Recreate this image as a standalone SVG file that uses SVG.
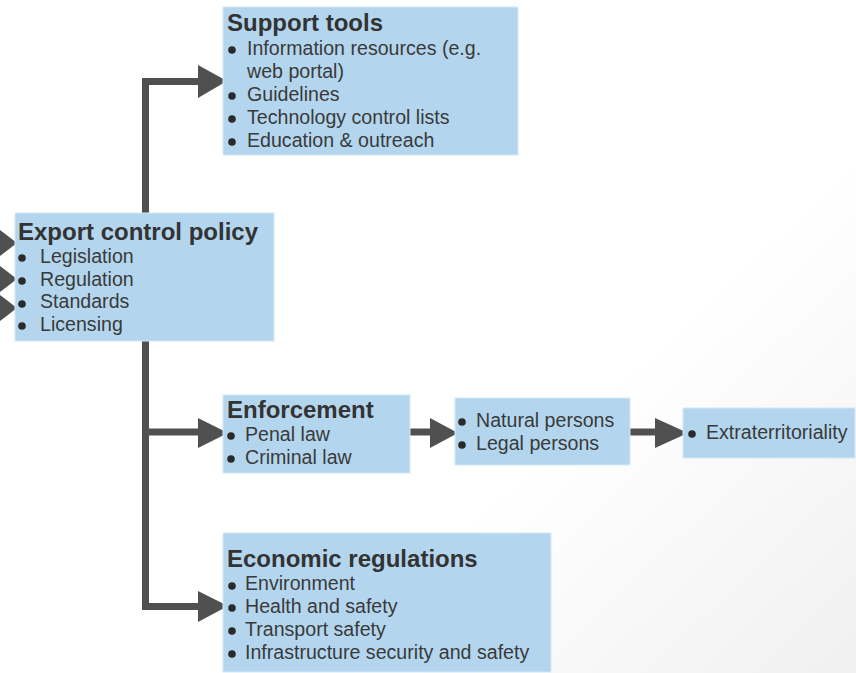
<svg xmlns="http://www.w3.org/2000/svg" width="856" height="673" viewBox="0 0 856 673">
  <defs>
    <linearGradient id="bgShade" gradientUnits="userSpaceOnUse" x1="600" y1="400" x2="856" y2="673">
      <stop offset="0" stop-color="#ffffff"/>
      <stop offset="1" stop-color="#f0f0f0"/>
    </linearGradient>
    <style>
      .box { fill: #b3d6ee; stroke: #d4e8f6; stroke-width: 1; }
      .title { font-family: "Liberation Sans", Arial, sans-serif; font-weight: bold; font-size: 24px; fill: #333333; }
      .item { font-family: "Liberation Sans", Arial, sans-serif; font-size: 19.6px; fill: #3a3a3a; }
      .dot { fill: #2a2a2a; }
      .wire { fill: none; stroke: #505050; stroke-width: 7; stroke-linejoin: miter; }
      .head { fill: #505050; }
    </style>
  </defs>

  <rect width="856" height="673" fill="url(#bgShade)"/>

  <!-- connectors -->
  <g id="connectors">
    <!-- trunk with branches -->
    <path class="wire" d="M145.5 610 V81.5 H202"/>
    <path class="wire" d="M145.5 432 H202"/>
    <path class="wire" d="M142 606.5 H202"/>
    <path class="wire" d="M410 432 H432"/>
    <path class="wire" d="M630 432 H658"/>
    <!-- arrowheads -->
    <polygon class="head" points="198,65 198,98 227,81"/>
    <polygon class="head" points="198,418 198,448 228,433"/>
    <polygon class="head" points="198,591 198,622 228,606"/>
    <polygon class="head" points="430,418 430,448 458,433"/>
    <polygon class="head" points="655,418 655,448 688,433"/>
    <!-- incoming arrows at the left edge -->
    <polygon class="head" points="0,230 0,256 17,243"/>
    <polygon class="head" points="0,266 0,292 17,279"/>
    <polygon class="head" points="0,295 0,321 17,308"/>
  </g>

  <g id="support-tools">
    <rect class="box" x="223" y="7" width="295" height="148"/>
    <text class="title" x="227" y="31">Support tools</text>
    <circle class="dot" cx="232" cy="50" r="3.8"/>
    <text class="item" x="247" y="55">Information resources (e.g.</text>
    <text class="item" x="247" y="78">web portal)</text>
    <circle class="dot" cx="232" cy="96" r="3.8"/>
    <text class="item" x="247" y="101">Guidelines</text>
    <circle class="dot" cx="232" cy="119" r="3.8"/>
    <text class="item" x="247" y="124">Technology control lists</text>
    <circle class="dot" cx="232" cy="142" r="3.8"/>
    <text class="item" x="247" y="147">Education &amp; outreach</text>
  </g>

  <g id="export-control-policy">
    <rect class="box" x="15" y="213" width="259" height="128"/>
    <text class="title" x="18" y="240">Export control policy</text>
    <circle class="dot" cx="22" cy="258" r="3.8"/>
    <text class="item" x="40" y="263">Legislation</text>
    <circle class="dot" cx="22" cy="281" r="3.8"/>
    <text class="item" x="40" y="286">Regulation</text>
    <circle class="dot" cx="22" cy="304" r="3.8"/>
    <text class="item" x="40" y="308">Standards</text>
    <circle class="dot" cx="22" cy="326" r="3.8"/>
    <text class="item" x="40" y="331">Licensing</text>
  </g>

  <g id="enforcement">
    <rect class="box" x="223" y="395" width="187" height="78"/>
    <text class="title" x="227" y="418">Enforcement</text>
    <circle class="dot" cx="231" cy="436" r="3.8"/>
    <text class="item" x="245" y="441">Penal law</text>
    <circle class="dot" cx="231" cy="459" r="3.8"/>
    <text class="item" x="245" y="464">Criminal law</text>
  </g>

  <g id="persons">
    <rect class="box" x="455" y="398" width="175" height="67"/>
    <circle class="dot" cx="462" cy="422" r="3.8"/>
    <text class="item" x="476" y="427">Natural persons</text>
    <circle class="dot" cx="462" cy="445" r="3.8"/>
    <text class="item" x="476" y="450">Legal persons</text>
  </g>

  <g id="extraterritoriality">
    <rect class="box" x="683" y="408" width="172" height="50"/>
    <circle class="dot" cx="692" cy="434" r="3.8"/>
    <text class="item" x="706" y="439">Extraterritoriality</text>
  </g>

  <g id="economic-regulations">
    <rect class="box" x="223" y="533" width="328" height="139"/>
    <text class="title" x="227" y="567">Economic regulations</text>
    <circle class="dot" cx="232" cy="586" r="3.8"/>
    <text class="item" x="245" y="590">Environment</text>
    <circle class="dot" cx="232" cy="608" r="3.8"/>
    <text class="item" x="245" y="613">Health and safety</text>
    <circle class="dot" cx="232" cy="631" r="3.8"/>
    <text class="item" x="245" y="636">Transport safety</text>
    <circle class="dot" cx="232" cy="654" r="3.8"/>
    <text class="item" x="245" y="659">Infrastructure security and safety</text>
  </g>
</svg>
